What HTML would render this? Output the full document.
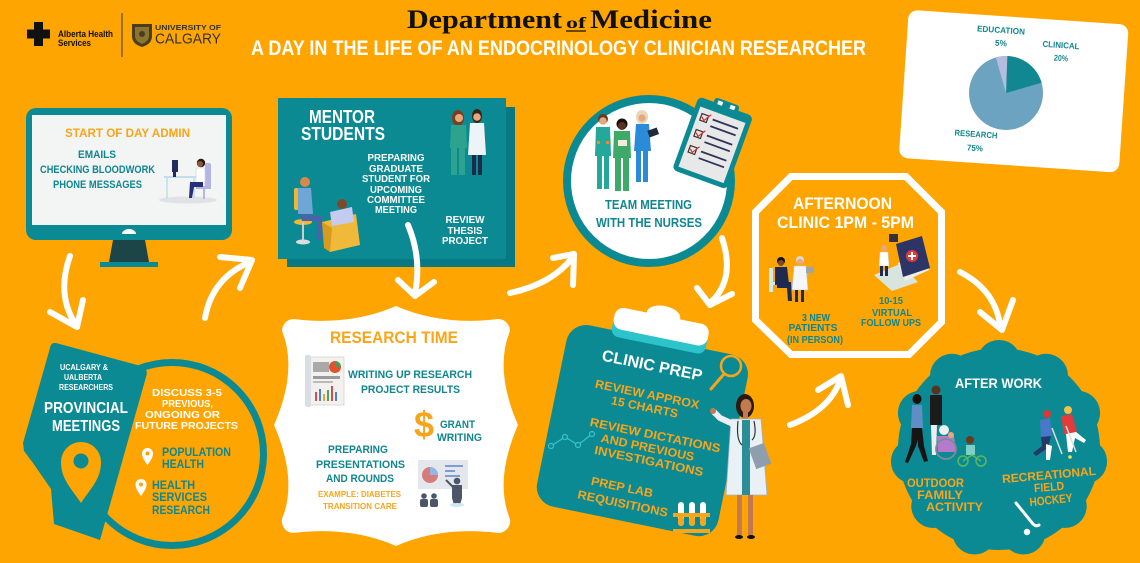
<!DOCTYPE html>
<html><head><meta charset="utf-8"><style>
html,body{margin:0;padding:0;background:#FEA502;}
svg{display:block;}
text{font-family:"Liberation Sans",sans-serif;font-weight:700;}
.w{fill:#fff}.tl{fill:#10868F}.or{fill:#F9A51A}
.arr{fill:none;stroke:#fff;stroke-width:6;stroke-linecap:round;stroke-linejoin:round}
</style></head><body>
<svg width="1140" height="563" viewBox="0 0 1140 563" xmlns="http://www.w3.org/2000/svg">
<rect width="1140" height="563" fill="#FEA502"/>

<!-- HEADER -->
<rect x="34" y="22" width="9" height="24" fill="#111"/>
<rect x="27" y="29.5" width="23" height="9" fill="#111"/>
<text x="58" y="37" font-size="9.5" textLength="55" lengthAdjust="spacingAndGlyphs" fill="#111">Alberta Health</text>
<text x="58" y="46" font-size="9.5" textLength="33" lengthAdjust="spacingAndGlyphs" fill="#111">Services</text>
<line x1="122" y1="13" x2="122" y2="57" stroke="#3a3a3a" stroke-width="1"/>
<path d="M132 24 L152 24 L152 36 Q152 44 142 47 Q132 44 132 36 Z" fill="#4a3d1c"/>
<path d="M135 27 L149 27 L149 36 Q149 41 142 44 Q135 41 135 36 Z" fill="#8a7432"/>
<circle cx="142" cy="34" r="3" fill="#4a3d1c"/>
<text x="155" y="30" font-size="7" textLength="66" lengthAdjust="spacingAndGlyphs" fill="#333">UNIVERSITY OF</text>
<text x="155" y="43.5" font-size="15" textLength="66" lengthAdjust="spacingAndGlyphs" fill="#333" style="font-weight:400">CALGARY</text>

<text x="407" y="28" font-size="26" textLength="155" lengthAdjust="spacingAndGlyphs" fill="#111" style="font-family:'Liberation Serif',serif">Department</text>
<text x="566" y="28" font-size="16" textLength="20" lengthAdjust="spacingAndGlyphs" fill="#111" style="font-family:'Liberation Serif',serif">of</text>
<line x1="566" y1="31" x2="586" y2="31" stroke="#111" stroke-width="1.2"/>
<text x="590" y="28" font-size="26" textLength="122" lengthAdjust="spacingAndGlyphs" fill="#111" style="font-family:'Liberation Serif',serif">Medicine</text>
<text x="251" y="55" font-size="21" textLength="615" lengthAdjust="spacingAndGlyphs" class="w">A DAY IN THE LIFE OF AN ENDOCRINOLOGY CLINICIAN RESEARCHER</text>

<!-- PIE CARD -->
<rect x="903.5" y="17.1" width="220.5" height="148.3" rx="9" fill="#fff" transform="rotate(3.9 1013.75 91.25)"/>
<circle cx="1006" cy="93" r="37" fill="#6BA3C1"/>
<path d="M1006 93 L1007.3 56 A37 37 0 0 1 1041.6 82.8 Z" fill="#118891"/>
<path d="M1006 93 L995.8 57.4 A37 37 0 0 1 1007.3 56 Z" fill="#B5BCDD"/>
<g font-size="8.5" class="tl" text-anchor="middle">
<text x="1001" y="33" textLength="48" lengthAdjust="spacingAndGlyphs" transform="rotate(4 1001 30)">EDUCATION</text>
<text x="1001" y="46" textLength="12" lengthAdjust="spacingAndGlyphs" transform="rotate(4 1001 43)">5%</text>
<text x="1061" y="48" textLength="37" lengthAdjust="spacingAndGlyphs" transform="rotate(4 1061 45)">CLINICAL</text>
<text x="1061" y="61" textLength="14" lengthAdjust="spacingAndGlyphs" transform="rotate(4 1061 58)">20%</text>
<text x="976" y="137" textLength="43" lengthAdjust="spacingAndGlyphs" transform="rotate(4 976 134)">RESEARCH</text>
<text x="975" y="151" textLength="16" lengthAdjust="spacingAndGlyphs" transform="rotate(4 975 148)">75%</text>
</g>

<!-- MONITOR -->
<rect x="26" y="108" width="206" height="132" rx="10" fill="#0B8A93"/>
<rect x="32" y="115" width="194" height="110" fill="#F3F4F4"/>
<path d="M122 234 A7 5 0 0 1 136 234 Z" fill="#fff"/>
<path d="M113 240 L145 240 L149 262 L109 262 Z" fill="#1C4547"/>
<rect x="100" y="262" width="58" height="5" fill="#0B8A93"/>
<text x="65" y="137" font-size="12" textLength="125" lengthAdjust="spacingAndGlyphs" class="or">START OF DAY ADMIN</text>
<text x="78" y="158" font-size="11" textLength="38" lengthAdjust="spacingAndGlyphs" class="tl">EMAILS</text>
<text x="40" y="173" font-size="11" textLength="115" lengthAdjust="spacingAndGlyphs" class="tl">CHECKING BLOODWORK</text>
<text x="53" y="188" font-size="11" textLength="89" lengthAdjust="spacingAndGlyphs" class="tl">PHONE MESSAGES</text>
<ellipse cx="188" cy="200" rx="29" ry="3.5" fill="#E0E2E6"/>
<line x1="164" y1="177" x2="198" y2="177" stroke="#BFDFEF" stroke-width="2"/>
<line x1="167" y1="177" x2="167" y2="199" stroke="#BFDFEF" stroke-width="1.5"/>
<line x1="194" y1="177" x2="194" y2="199" stroke="#BFDFEF" stroke-width="1.5"/>
<rect x="172" y="160" width="6" height="12" fill="#1F2C5C"/>
<rect x="173" y="172" width="3" height="5" fill="#1F2C5C"/>
<rect x="205" y="163" width="6" height="25" rx="2" fill="#B7B5E6"/>
<rect x="196" y="186" width="15" height="3" fill="#B7B5E6"/>
<line x1="204" y1="189" x2="204" y2="199" stroke="#B7B5E6" stroke-width="2"/>
<circle cx="201" cy="163" r="4.2" fill="#2a1a12"/>
<circle cx="200" cy="164" r="3" fill="#8B5A3C"/>
<rect x="196" y="168" width="9" height="16" rx="2" fill="#fff" stroke="#c8d2dc" stroke-width="0.6"/>
<path d="M190 182 L203 182 L203 187 L194 187 L192 198 L189 198 Z" fill="#28307a"/>

<!-- MENTOR -->
<rect x="287" y="107" width="228" height="160" fill="#087983"/>
<rect x="278" y="98" width="228" height="161" fill="#0B8A93"/>
<text x="309" y="123" font-size="18" textLength="66" lengthAdjust="spacingAndGlyphs" class="w">MENTOR</text>
<text x="301" y="140" font-size="18" textLength="84" lengthAdjust="spacingAndGlyphs" class="w">STUDENTS</text>
<g font-size="10.5" class="w" text-anchor="middle">
<text x="396" y="161" textLength="57" lengthAdjust="spacingAndGlyphs">PREPARING</text>
<text x="396" y="172" textLength="54" lengthAdjust="spacingAndGlyphs">GRADUATE</text>
<text x="396" y="182" textLength="68" lengthAdjust="spacingAndGlyphs">STUDENT FOR</text>
<text x="396" y="193" textLength="52" lengthAdjust="spacingAndGlyphs">UPCOMING</text>
<text x="396" y="203" textLength="58" lengthAdjust="spacingAndGlyphs">COMMITTEE</text>
<text x="396" y="213" textLength="42" lengthAdjust="spacingAndGlyphs">MEETING</text>
<text x="465" y="223" textLength="39" lengthAdjust="spacingAndGlyphs">REVIEW</text>
<text x="465" y="234" textLength="35" lengthAdjust="spacingAndGlyphs">THESIS</text>
<text x="465" y="244" textLength="46" lengthAdjust="spacingAndGlyphs">PROJECT</text>
</g>
<ellipse cx="458" cy="118" rx="6" ry="8" fill="#7B3F20"/>
<circle cx="459" cy="118" r="4" fill="#E8A77E"/>
<path d="M451 125 L466 125 L467 148 L450 148 Z" fill="#2BA38E"/>
<rect x="451" y="148" width="6" height="27" fill="#2BA38E"/>
<rect x="459" y="148" width="6" height="27" fill="#2BA38E"/>
<ellipse cx="477" cy="116" rx="5" ry="7" fill="#3a2418"/>
<circle cx="477" cy="117" r="3.8" fill="#E8A77E"/>
<path d="M470 123 L484 123 L486 155 L468 155 Z" fill="#EEF3F7"/>
<rect x="472" y="155" width="4" height="20" fill="#1E2A4A"/>
<rect x="478" y="155" width="4" height="20" fill="#1E2A4A"/>
<rect x="294" y="188" width="5" height="22" rx="2" fill="#F2B632"/>
<ellipse cx="303" cy="222" rx="9" ry="3" fill="#F2B632"/>
<line x1="303" y1="222" x2="303" y2="240" stroke="#ccc" stroke-width="2"/>
<ellipse cx="303" cy="242" rx="7" ry="2.5" fill="#ddd"/>
<circle cx="305" cy="182" r="5" fill="#D8884A"/>
<path d="M298 188 L311 188 L313 214 L298 214 Z" fill="#6EA7D6"/>
<path d="M300 214 L322 216 L322 221 L302 221 Z" fill="#4B63A8"/>
<rect x="318" y="218" width="4" height="22" fill="#4B63A8"/>
<path d="M322 222 L356 214 L360 245 L330 252 Z" fill="#F0B93A"/>
<path d="M322 222 L332 228 L330 252 L324 248 Z" fill="#D89A1F"/>
<path d="M330 212 L352 207 L354 222 L332 226 Z" fill="#C5CBEE"/>
<circle cx="342" cy="204" r="5" fill="#7B4A2A"/>

<!-- RESEARCH TIME -->
<path d="M396 306 Q442 326 498 319 A12 12 0 0 1 510 331 Q494 370 518 425 Q494 480 510 519 A12 12 0 0 1 498 533 Q442 526 396 546 Q350 526 293 533 A12 12 0 0 1 282 519 Q298 480 274 425 Q298 370 282 331 A12 12 0 0 1 293 319 Q350 326 396 306 Z" fill="#fff"/>
<text x="330" y="343" font-size="17" textLength="128" lengthAdjust="spacingAndGlyphs" class="or">RESEARCH TIME</text>
<g font-size="11" class="tl">
<text x="348" y="378" textLength="124" lengthAdjust="spacingAndGlyphs">WRITING UP RESEARCH</text>
<text x="361" y="393" textLength="99" lengthAdjust="spacingAndGlyphs">PROJECT RESULTS</text>
<text x="440" y="428" textLength="35" lengthAdjust="spacingAndGlyphs">GRANT</text>
<text x="437" y="441" textLength="45" lengthAdjust="spacingAndGlyphs">WRITING</text>
<text x="328" y="453" textLength="60" lengthAdjust="spacingAndGlyphs">PREPARING</text>
<text x="316" y="468" textLength="89" lengthAdjust="spacingAndGlyphs">PRESENTATIONS</text>
<text x="326" y="482" textLength="68" lengthAdjust="spacingAndGlyphs">AND ROUNDS</text>
</g>
<text x="318" y="497" font-size="8.5" textLength="83" lengthAdjust="spacingAndGlyphs" class="or">EXAMPLE: DIABETES</text>
<text x="323" y="509" font-size="8.5" textLength="74" lengthAdjust="spacingAndGlyphs" class="or">TRANSITION CARE</text>
<text x="424" y="437" font-size="36" text-anchor="middle" class="or">$</text>
<rect x="308" y="357" width="36" height="48" fill="#F2F1EE" stroke="#d4d4d4" stroke-width="0.8"/>
<rect x="305" y="355" width="6" height="52" rx="2" fill="#DADDE3"/>
<rect x="313" y="362" width="16" height="10" fill="#A9A9A9"/>
<circle cx="335" cy="367" r="6" fill="#E0532F"/>
<path d="M335 367 L335 361 A6 6 0 0 1 341 367 Z" fill="#4C9A5B"/>
<rect x="313" y="376" width="27" height="3" fill="#9a9a9a"/>
<rect x="313" y="381" width="20" height="2" fill="#bbb"/>
<rect x="315" y="392" width="2" height="9" fill="#D94B4B"/>
<rect x="319" y="389" width="2" height="12" fill="#4F7FD0"/>
<rect x="323" y="394" width="2" height="7" fill="#E9A23B"/>
<rect x="327" y="390" width="2" height="11" fill="#4CA65A"/>
<rect x="331" y="386" width="2" height="15" fill="#D94B4B"/>
<rect x="335" y="392" width="2" height="9" fill="#4F7FD0"/>
<rect x="418" y="460" width="50" height="29" fill="#E4E7EC"/>
<circle cx="430" cy="475" r="8" fill="#D77A7A"/>
<path d="M430 475 L430 467 A8 8 0 0 1 438 475 Z" fill="#8FB7E8"/>
<line x1="445" y1="466" x2="463" y2="466" stroke="#5B86C9" stroke-width="1.5"/>
<line x1="445" y1="471" x2="455" y2="471" stroke="#5B86C9" stroke-width="1.5"/>
<line x1="445" y1="476" x2="460" y2="476" stroke="#5B86C9" stroke-width="1.5"/>
<circle cx="457" cy="481" r="3.3" fill="#4B5768"/>
<path d="M452 485 L462 485 L462 498 L460 505 L454 505 L452 498 Z" fill="#4B5768"/>
<line x1="453" y1="487" x2="446" y2="480" stroke="#4B5768" stroke-width="2"/>
<ellipse cx="457" cy="505" rx="7" ry="2" fill="#cfe7f7"/>
<circle cx="424" cy="496" r="2.8" fill="#4B5768"/><rect x="420" y="499" width="8" height="8" rx="2" fill="#4B5768"/>
<circle cx="434" cy="496" r="2.8" fill="#4B5768"/><rect x="430" y="499" width="8" height="8" rx="2" fill="#4B5768"/>

<!-- PROVINCIAL -->
<circle cx="172" cy="454" r="91.5" fill="none" stroke="#0B8A93" stroke-width="7"/>
<path d="M56 343 L141 366 Q149 369 146 377 L100 540 L54 524 L51 489 L33 463 L24 451 L23 443 L50 348 Q51 342 56 343 Z" fill="#0B8A93"/>
<path d="M81 503 C71 488 61 479 61 462 A20 20 0 0 1 101 462 C101 479 91 488 81 503 Z" fill="#FEA502"/>
<circle cx="81" cy="461" r="7.5" fill="#0B8A93"/>
<g class="w">
<text x="60" y="370" font-size="8" textLength="48" lengthAdjust="spacingAndGlyphs">UCALGARY &amp;</text>
<text x="64" y="380" font-size="8" textLength="38" lengthAdjust="spacingAndGlyphs">UALBERTA</text>
<text x="59" y="390" font-size="8" textLength="54" lengthAdjust="spacingAndGlyphs">RESEARCHERS</text>
<text x="44" y="413" font-size="16" textLength="84" lengthAdjust="spacingAndGlyphs">PROVINCIAL</text>
<text x="52" y="431" font-size="16" textLength="68" lengthAdjust="spacingAndGlyphs">MEETINGS</text>
<text x="152" y="396" font-size="10.5" textLength="70" lengthAdjust="spacingAndGlyphs">DISCUSS 3-5</text>
<text x="162" y="407" font-size="10.5" textLength="51" lengthAdjust="spacingAndGlyphs">PREVIOUS,</text>
<text x="145" y="418" font-size="10.5" textLength="75" lengthAdjust="spacingAndGlyphs">ONGOING OR</text>
<text x="135" y="429" font-size="10.5" textLength="103" lengthAdjust="spacingAndGlyphs">FUTURE PROJECTS</text>
</g>
<g class="tl" font-size="12">
<text x="162" y="456" textLength="69" lengthAdjust="spacingAndGlyphs">POPULATION</text>
<text x="162" y="468" textLength="42" lengthAdjust="spacingAndGlyphs">HEALTH</text>
<text x="152" y="489" textLength="43" lengthAdjust="spacingAndGlyphs">HEALTH</text>
<text x="152" y="501" textLength="55" lengthAdjust="spacingAndGlyphs">SERVICES</text>
<text x="152" y="514" textLength="58" lengthAdjust="spacingAndGlyphs">RESEARCH</text>
</g>
<path d="M147.5 465 C144 460 142 457 142 453.5 A5.5 5.5 0 0 1 153 453.5 C153 457 151 460 147.5 465 Z" fill="#fff"/>
<circle cx="147.5" cy="453.5" r="2" fill="#FEA502"/>
<path d="M141 496 C137.5 491 135.5 488 135.5 484.5 A5.5 5.5 0 0 1 146.5 484.5 C146.5 488 144.5 491 141 496 Z" fill="#fff"/>
<circle cx="141" cy="484.5" r="2" fill="#FEA502"/>

<!-- TEAM MEETING -->
<circle cx="649" cy="181" r="82" fill="#fff" stroke="#0B8A93" stroke-width="8"/>
<text x="605" y="209" font-size="12.5" textLength="87" lengthAdjust="spacingAndGlyphs" class="tl">TEAM MEETING</text>
<text x="596" y="227" font-size="12.5" textLength="106" lengthAdjust="spacingAndGlyphs" class="tl">WITH THE NURSES</text>
<circle cx="603" cy="119" r="5" fill="#6a3a1e"/><circle cx="603" cy="121" r="3.8" fill="#E8A77E"/>
<path d="M596 127 L610 127 L611 156 L595 156 Z" fill="#23A89A"/>
<rect x="597" y="156" width="5" height="33" fill="#23A89A"/><rect x="604" y="156" width="5" height="33" fill="#23A89A"/>
<rect x="597" y="141" width="3" height="3" fill="#E98B2F"/><rect x="606" y="141" width="3" height="3" fill="#E98B2F"/>
<circle cx="622" cy="124" r="5.5" fill="#1a100a"/><circle cx="622" cy="126" r="4" fill="#5A3320"/>
<path d="M614 131 L630 131 L631 158 L613 158 Z" fill="#3DAA6A"/>
<rect x="615" y="158" width="6" height="33" fill="#3DAA6A"/><rect x="623" y="158" width="6" height="33" fill="#3DAA6A"/>
<rect x="618" y="140" width="9" height="6" fill="#F2EDD8"/>
<ellipse cx="642" cy="117" rx="6" ry="7" fill="#E8D7B9"/><circle cx="642" cy="118" r="3.6" fill="#E8A77E"/>
<path d="M636 124 L649 124 L651 151 L634 151 Z" fill="#2C8BD8"/>
<rect x="636" y="151" width="5" height="31" fill="#2C8BD8"/><rect x="643" y="151" width="5" height="31" fill="#2C8BD8"/>
<rect x="648" y="129" width="10" height="7" fill="#1f2a3a" transform="rotate(-20 653 132)"/>
<g transform="rotate(20 713 142)">
<rect x="684" y="104" width="58" height="78" rx="5" fill="#0B8A93"/>
<rect x="689" y="113" width="48" height="64" fill="#E8E8E8"/>
<rect x="700" y="99" width="26" height="10" rx="3" fill="#0B8A93"/>
<rect x="704" y="101" width="5" height="4" fill="#fff"/><rect x="717" y="101" width="5" height="4" fill="#fff"/>
<g fill="none" stroke-width="1.2">
<rect x="693" y="119" width="7" height="7" stroke="#333"/><path d="M694 122 L697 125 L702 117" stroke="#D33"/>
<rect x="693" y="136" width="7" height="7" stroke="#333"/><path d="M694 139 L697 142 L702 134" stroke="#D33"/>
<rect x="693" y="153" width="7" height="7" stroke="#333"/><path d="M694 156 L697 159 L702 151" stroke="#D33"/>
</g>
<g stroke="#2E3558" stroke-width="1.8">
<line x1="705" y1="121" x2="732" y2="121"/><line x1="705" y1="128" x2="732" y2="128"/>
<line x1="705" y1="138" x2="732" y2="138"/><line x1="705" y1="145" x2="732" y2="145"/>
<line x1="705" y1="155" x2="732" y2="155"/><line x1="705" y1="162" x2="732" y2="162"/>
</g>
</g>

<!-- AFTERNOON CLINIC -->
<path d="M791 176.5 L906 176.5 L941.5 212 L941.5 322 L909 354.5 L791 354.5 L755.5 320 L755.5 212 Z" fill="none" stroke="#fff" stroke-width="7"/>
<text x="793" y="209" font-size="17" textLength="99" lengthAdjust="spacingAndGlyphs" class="w">AFTERNOON</text>
<text x="777" y="228" font-size="17" textLength="137" lengthAdjust="spacingAndGlyphs" class="w">CLINIC 1PM - 5PM</text>
<g font-size="10.5" class="tl" text-anchor="middle">
<text x="816" y="321" textLength="28" lengthAdjust="spacingAndGlyphs">3 NEW</text>
<text x="813" y="331" textLength="49" lengthAdjust="spacingAndGlyphs">PATIENTS</text>
<text x="815" y="343" textLength="56" lengthAdjust="spacingAndGlyphs">(IN PERSON)</text>
<text x="891" y="304" textLength="24" lengthAdjust="spacingAndGlyphs">10-15</text>
<text x="892" y="316" textLength="40" lengthAdjust="spacingAndGlyphs">VIRTUAL</text>
<text x="891" y="326" textLength="60" lengthAdjust="spacingAndGlyphs">FOLLOW UPS</text>
</g>
<path d="M769 268 L773 268 L773 292 L769 292 Z" fill="#CFEAF3"/>
<rect x="769" y="282" width="16" height="3" fill="#CFEAF3"/>
<circle cx="781" cy="261" r="4" fill="#1a100a"/><circle cx="781" cy="263" r="3" fill="#7a4a2a"/>
<path d="M775 267 L787 267 L789 284 L775 285 Z" fill="#1E2A52"/>
<path d="M777 282 L791 282 L792 301 L788 301 L787 288 L777 288 Z" fill="#1E2A52"/>
<circle cx="800" cy="260" r="4" fill="#d8d8d8"/><circle cx="800" cy="262" r="3" fill="#E8A77E"/>
<path d="M794 266 L806 266 L808 290 L792 290 Z" fill="#F4F6F8" stroke="#b9c6d2" stroke-width="0.6"/>
<rect x="795" y="290" width="3" height="12" fill="#1E2A52"/><rect x="801" y="290" width="3" height="12" fill="#1E2A52"/>
<rect x="806" y="267" width="8" height="6" fill="#9aa6b2"/>
<path d="M874 275 L900 264 L918 282 L892 291 Z" fill="#D8E5DE"/>
<path d="M898 263 L925 252 L929 270 L905 281 Z" fill="#EDEDED"/>
<path d="M896 244 L922 236 L930 268 L903 277 Z" fill="#2C3566"/>
<circle cx="912" cy="256" r="6" fill="#E03A3A"/>
<path d="M912 252 L912 260 M908 256 L916 256" stroke="#fff" stroke-width="2"/>
<rect x="889" y="234" width="9" height="8" fill="#333"/>
<circle cx="884" cy="248" r="3" fill="#E8A77E"/>
<path d="M880 252 L888 252 L889 266 L879 266 Z" fill="#fff" stroke="#ccc" stroke-width="0.5"/>
<rect x="880" y="266" width="3" height="10" fill="#1E2A52"/><rect x="885" y="266" width="3" height="10" fill="#1E2A52"/>

<!-- CLINIC PREP -->
<g transform="rotate(11.6 642 430)">
<rect x="550" y="338" width="185" height="185" rx="20" fill="#0B8A93"/>
<rect x="592" y="322" width="96" height="22" rx="8" fill="#2CC3CB"/>
<rect x="592" y="314" width="96" height="22" rx="9" fill="#fff"/>
<ellipse cx="640" cy="313" rx="17" ry="9" fill="#fff"/>
<text x="639" y="370" font-size="16" text-anchor="middle" textLength="102" lengthAdjust="spacingAndGlyphs" class="w">CLINIC PREP</text>
<g font-size="12" text-anchor="middle" class="or">
<text x="640" y="398" textLength="106" lengthAdjust="spacingAndGlyphs">REVIEW APPROX</text>
<text x="640" y="411" textLength="68" lengthAdjust="spacingAndGlyphs">15 CHARTS</text>
<text x="656" y="436.5" textLength="133" lengthAdjust="spacingAndGlyphs">REVIEW DICTATIONS</text>
<text x="651" y="450" textLength="95" lengthAdjust="spacingAndGlyphs">AND PREVIOUS</text>
<text x="655" y="463" textLength="111" lengthAdjust="spacingAndGlyphs">INVESTIGATIONS</text>
<text x="634" y="494" textLength="63" lengthAdjust="spacingAndGlyphs">PREP LAB</text>
<text x="638" y="510" textLength="92" lengthAdjust="spacingAndGlyphs">REQUISITIONS</text>
</g>
</g>
<circle cx="731" cy="366" r="10" fill="none" stroke="#F9A51A" stroke-width="2.5"/>
<line x1="724" y1="374" x2="711" y2="389" stroke="#F9A51A" stroke-width="3" stroke-linecap="round"/>
<polyline points="551,446 565,437 578,445 592,434" fill="none" stroke="#37C3CC" stroke-width="1.2"/>
<g fill="#0B8A93" stroke="#37C3CC" stroke-width="1.2"><circle cx="551" cy="446" r="2.5"/><circle cx="565" cy="437" r="2.5"/><circle cx="578" cy="445" r="2.5"/><circle cx="592" cy="434" r="2.5"/></g>
<rect x="678" y="502" width="6" height="24" rx="3" fill="#fff"/><rect x="689" y="502" width="6" height="24" rx="3" fill="#fff"/><rect x="700" y="502" width="6" height="24" rx="3" fill="#fff"/>
<rect x="678" y="516" width="6" height="10" rx="3" fill="#F9A51A"/><rect x="689" y="516" width="6" height="10" rx="3" fill="#F9A51A"/><rect x="700" y="516" width="6" height="10" rx="3" fill="#F9A51A"/>
<rect x="673" y="513" width="37" height="4" fill="#F9A51A"/>
<rect x="673" y="529" width="37" height="4" fill="#F9A51A"/>
<ellipse cx="745" cy="406" rx="9" ry="12" fill="#2a1a12"/>
<ellipse cx="746" cy="406" rx="5.5" ry="7" fill="#C47A4E"/>
<rect x="743" y="412" width="5" height="8" fill="#C47A4E"/>
<path d="M731 419 L761 419 L767 495 L726 495 Z" fill="#E9F1F6" stroke="#9FB6C6" stroke-width="0.8"/>
<rect x="742" y="420" width="8" height="75" fill="#2B8E97"/>
<path d="M733 424 L720 418 L714 412" fill="none" stroke="#E9F1F6" stroke-width="6" stroke-linecap="round"/>
<circle cx="713" cy="411" r="3" fill="#C47A4E"/>
<path d="M738 421 Q736 440 742 445 M754 421 Q757 436 752 440" fill="none" stroke="#333" stroke-width="1.2"/>
<rect x="752" y="445" width="16" height="22" fill="#8E9EAF" transform="rotate(-20 760 456)"/>
<rect x="737" y="495" width="5" height="40" fill="#C47A4E"/><rect x="748" y="495" width="5" height="40" fill="#C47A4E"/>
<ellipse cx="739" cy="537" rx="4" ry="2" fill="#111"/><ellipse cx="751" cy="537" rx="4" ry="2" fill="#111"/>

<!-- AFTER WORK BLOB -->
<g fill="#0B8A93">
<circle cx="999" cy="449" r="101"/>
<circle cx="999" cy="362" r="22"/><circle cx="1046" cy="375.8" r="22"/><circle cx="1078.1" cy="412.9" r="22"/><circle cx="1085.1" cy="461.4" r="22"/><circle cx="1064.7" cy="506" r="22"/><circle cx="1023.5" cy="532.5" r="22"/><circle cx="974.5" cy="532.5" r="22"/><circle cx="933.3" cy="506" r="22"/><circle cx="912.9" cy="461.4" r="22"/><circle cx="919.9" cy="412.9" r="22"/><circle cx="952" cy="375.8" r="22"/>
</g>
<text x="955" y="388" font-size="14" textLength="87" lengthAdjust="spacingAndGlyphs" class="w">AFTER WORK</text>
<g font-size="12" class="or">
<text x="907" y="487" textLength="57" lengthAdjust="spacingAndGlyphs">OUTDOOR</text>
<text x="917" y="499" textLength="46" lengthAdjust="spacingAndGlyphs">FAMILY</text>
<text x="926" y="511" textLength="57" lengthAdjust="spacingAndGlyphs">ACTIVITY</text>
<g text-anchor="middle">
<text x="1049" y="479" textLength="94" lengthAdjust="spacingAndGlyphs" transform="rotate(-5 1049 475)">RECREATIONAL</text>
<text x="1049" y="491" textLength="30" lengthAdjust="spacingAndGlyphs" transform="rotate(-5 1049 487)">FIELD</text>
<text x="1051" y="504" textLength="43" lengthAdjust="spacingAndGlyphs" transform="rotate(-6 1051 500)">HOCKEY</text>
</g>
</g>
<path d="M1016 503 L1033 524 Q1036 527 1039 525" fill="none" stroke="#fff" stroke-width="3" stroke-linecap="round"/>
<circle cx="1027" cy="532" r="3.2" fill="#fff"/>
<ellipse cx="917" cy="399" rx="4.5" ry="5" fill="#1a100a"/>
<path d="M912 405 L922 405 L923 428 L911 428 Z" fill="#5D8FC4"/>
<path d="M912 428 L921 428 L916 446 L908 463 L905 462 L911 444 Z" fill="#151515"/>
<path d="M917 428 L922 428 L924 446 L928 461 L924 462 L918 446 Z" fill="#151515"/>
<circle cx="936" cy="390" r="4.5" fill="#5A3320"/>
<path d="M930 395 L942 395 L942 425 L930 425 Z" fill="#1b1b1b"/>
<path d="M931 425 L937 425 L936 455 L932 455 Z" fill="#eee"/>
<circle cx="944" cy="430" r="5" fill="#eee"/>
<path d="M937 436 L954 436 L956 452 L938 452 Z" fill="#B57BCB"/>
<circle cx="946" cy="449" r="10" fill="none" stroke="#7a8a9a" stroke-width="1.8"/>
<circle cx="951" cy="435" r="3" fill="#E8A77E"/>
<circle cx="970" cy="440" r="4" fill="#6a3a1e"/>
<path d="M966 445 L975 445 L975 455 L966 455 Z" fill="#7ECFC4"/>
<circle cx="963" cy="461" r="5" fill="none" stroke="#5BB85B" stroke-width="1.5"/>
<circle cx="981" cy="461" r="5" fill="none" stroke="#5BB85B" stroke-width="1.5"/>
<path d="M963 461 L972 455 L981 461" fill="none" stroke="#5BB85B" stroke-width="1.5"/>
<circle cx="1047" cy="414" r="4" fill="#D93838"/>
<path d="M1040 420 L1050 418 L1052 436 L1041 437 Z" fill="#4A78C8"/>
<path d="M1041 437 L1051 436 L1048 448 L1036 456 L1033 453 L1042 446 Z" fill="#243a6a"/>
<path d="M1046 444 L1052 446 L1050 460 L1046 460 Z" fill="#fff"/>
<line x1="1052" y1="428" x2="1062" y2="454" stroke="#ddd" stroke-width="1.5"/>
<circle cx="1068" cy="410" r="4" fill="#F2C14A"/>
<path d="M1061 416 L1072 414 L1077 432 L1064 434 Z" fill="#E33B3B"/>
<path d="M1066 434 L1076 432 L1086 440 L1084 443 L1075 438 L1072 452 L1068 452 Z" fill="#fff"/>
<line x1="1066" y1="426" x2="1076" y2="452" stroke="#ddd" stroke-width="1.5"/>
<circle cx="1070" cy="457" r="1.8" fill="#E4E45A"/>

<!-- ARROWS -->
<g class="arr">
<path d="M70 256 Q56 295 76 325"/><path d="M50 312 L77 327 L83 300"/>
<path d="M205 318 Q212 278 250 262"/><path d="M220 257 L252 260 L240 288"/>
<path d="M408 225 Q422 258 415 293"/><path d="M398 280 L415 296 L434 282"/>
<path d="M510 293 Q552 284 572 258"/><path d="M553 258 L574 254 L573 285"/>
<path d="M722 238 Q736 280 710 303"/><path d="M697 288 L710 305 L732 294"/>
<path d="M790 425 Q830 410 840 380"/><path d="M818 390 L841 376 L848 405"/>
<path d="M960 272 Q995 290 1000 325"/><path d="M980 312 L1002 330 L1013 300"/>
</g>
</svg>
</body></html>
